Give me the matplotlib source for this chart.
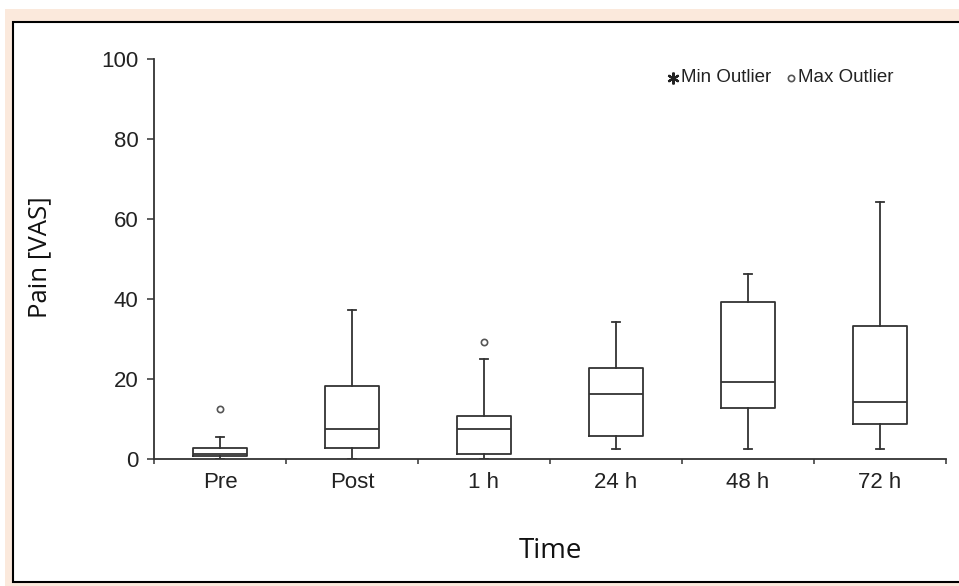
import matplotlib
matplotlib.use("Agg")
import matplotlib.pyplot as plt
from matplotlib.patches import Rectangle

# --- data ---
categories = ["Pre", "Post", "1 h", "24 h", "48 h", "72 h"]
whisker_low = [0.0, 0.0, 0.0, 2.4, 2.4, 2.4]
q1 = [0.7, 2.7, 1.3, 5.7, 12.7, 8.7]
median = [1.3, 7.4, 7.4, 16.3, 19.3, 14.3]
q3 = [2.7, 18.3, 10.7, 22.7, 39.3, 33.3]
whisker_high = [5.6, 37.2, 25.0, 34.3, 46.2, 64.2]
max_outliers = [[12.6], [], [29.2], [], [], []]
y_ticks = [0, 20, 40, 60, 80, 100]

W, H = 959, 586
fig = plt.figure(figsize=(W / 100, H / 100), dpi=100, facecolor="white")

# peach frame and white panel behind the chart
fig.patches.append(Rectangle((5 / W, 0), 1, 1 - 9 / H, transform=fig.transFigure,
                             facecolor="#FBE9DC", edgecolor="none", zorder=0))
fig.patches.append(Rectangle((13 / W, 1 - 582 / H), 1.0, (582 - 22) / H,
                             transform=fig.transFigure, facecolor="white",
                             edgecolor="black", linewidth=1.5, zorder=1))

ax = fig.add_axes([154 / W, 1 - 459 / H, 792 / W, 400 / H])
ax.set_zorder(3)
ax.patch.set_alpha(0)

line_col = "#333333"
stats = []
for i, name in enumerate(categories):
    stats.append({"label": name, "whislo": whisker_low[i], "q1": q1[i],
                  "med": median[i], "q3": q3[i], "whishi": whisker_high[i],
                  "fliers": max_outliers[i]})

pos = [i + 0.5 for i in range(len(categories))]
ax.bxp(stats, positions=pos, widths=0.41, capwidths=0.055, showfliers=True,
       boxprops=dict(color=line_col, linewidth=1.3),
       medianprops=dict(color=line_col, linewidth=1.3),
       whiskerprops=dict(color=line_col, linewidth=1.3),
       capprops=dict(color=line_col, linewidth=1.3),
       flierprops=dict(marker="o", markersize=4.5, markerfacecolor="none",
                       markeredgecolor="#555555", markeredgewidth=1.2))

ax.set_xlim(0, len(categories))
ax.set_ylim(0, 100)
ax.set_yticks(y_ticks)
ax.set_xticks(range(len(categories) + 1))
ax.set_xticklabels([])
ax.set_xticks(pos, minor=True)
ax.set_xticklabels(categories, minor=True)
ax.tick_params(axis="x", which="major", length=3.5, width=1.1, color=line_col, direction="out")
ax.tick_params(axis="x", which="minor", length=0, pad=9, labelsize=16)
ax.tick_params(axis="y", length=5, width=1.1, color=line_col, pad=6, labelsize=16)
for lab in ax.get_xticklabels(minor=True) + ax.get_yticklabels():
    lab.set_fontfamily("Liberation Sans")
    lab.set_color("#222222")

for s in ["top", "right"]:
    ax.spines[s].set_visible(False)
for s in ["left", "bottom"]:
    ax.spines[s].set_color(line_col)
    ax.spines[s].set_linewidth(1.3)

# legend-like key in the upper right
ax.plot([673 / W], [1 - 78 / H], transform=fig.transFigure,
        marker=(6, 2, 0), markersize=8.5, markeredgewidth=1.6, color="#222222", clip_on=False)
fig.text(681 / W, 1 - 78 / H, "Min Outlier", fontsize=13.5, family="Liberation Sans",
         va="center", ha="left", color="#222222", zorder=4)
ax.plot([791 / W], [1 - 78 / H], transform=fig.transFigure, marker="o", markersize=4.5,
        markerfacecolor="none", markeredgecolor="#555555", markeredgewidth=1.2, clip_on=False)
fig.text(798 / W, 1 - 78 / H, "Max Outlier", fontsize=13.5, family="Liberation Sans",
         va="center", ha="left", color="#222222", zorder=4)

fig.text(40 / W, 1 - 257 / H, "Pain [VAS]", rotation=90, fontsize=18.5, family="Open Sans",
         ha="center", va="center", color="#111111", zorder=4)
fig.text(550 / W, 1 - 551 / H, "Time", fontsize=20, family="Open Sans",
         ha="center", va="center", color="#111111", zorder=4)

fig.savefig("out.png", dpi=100, facecolor=fig.get_facecolor())
